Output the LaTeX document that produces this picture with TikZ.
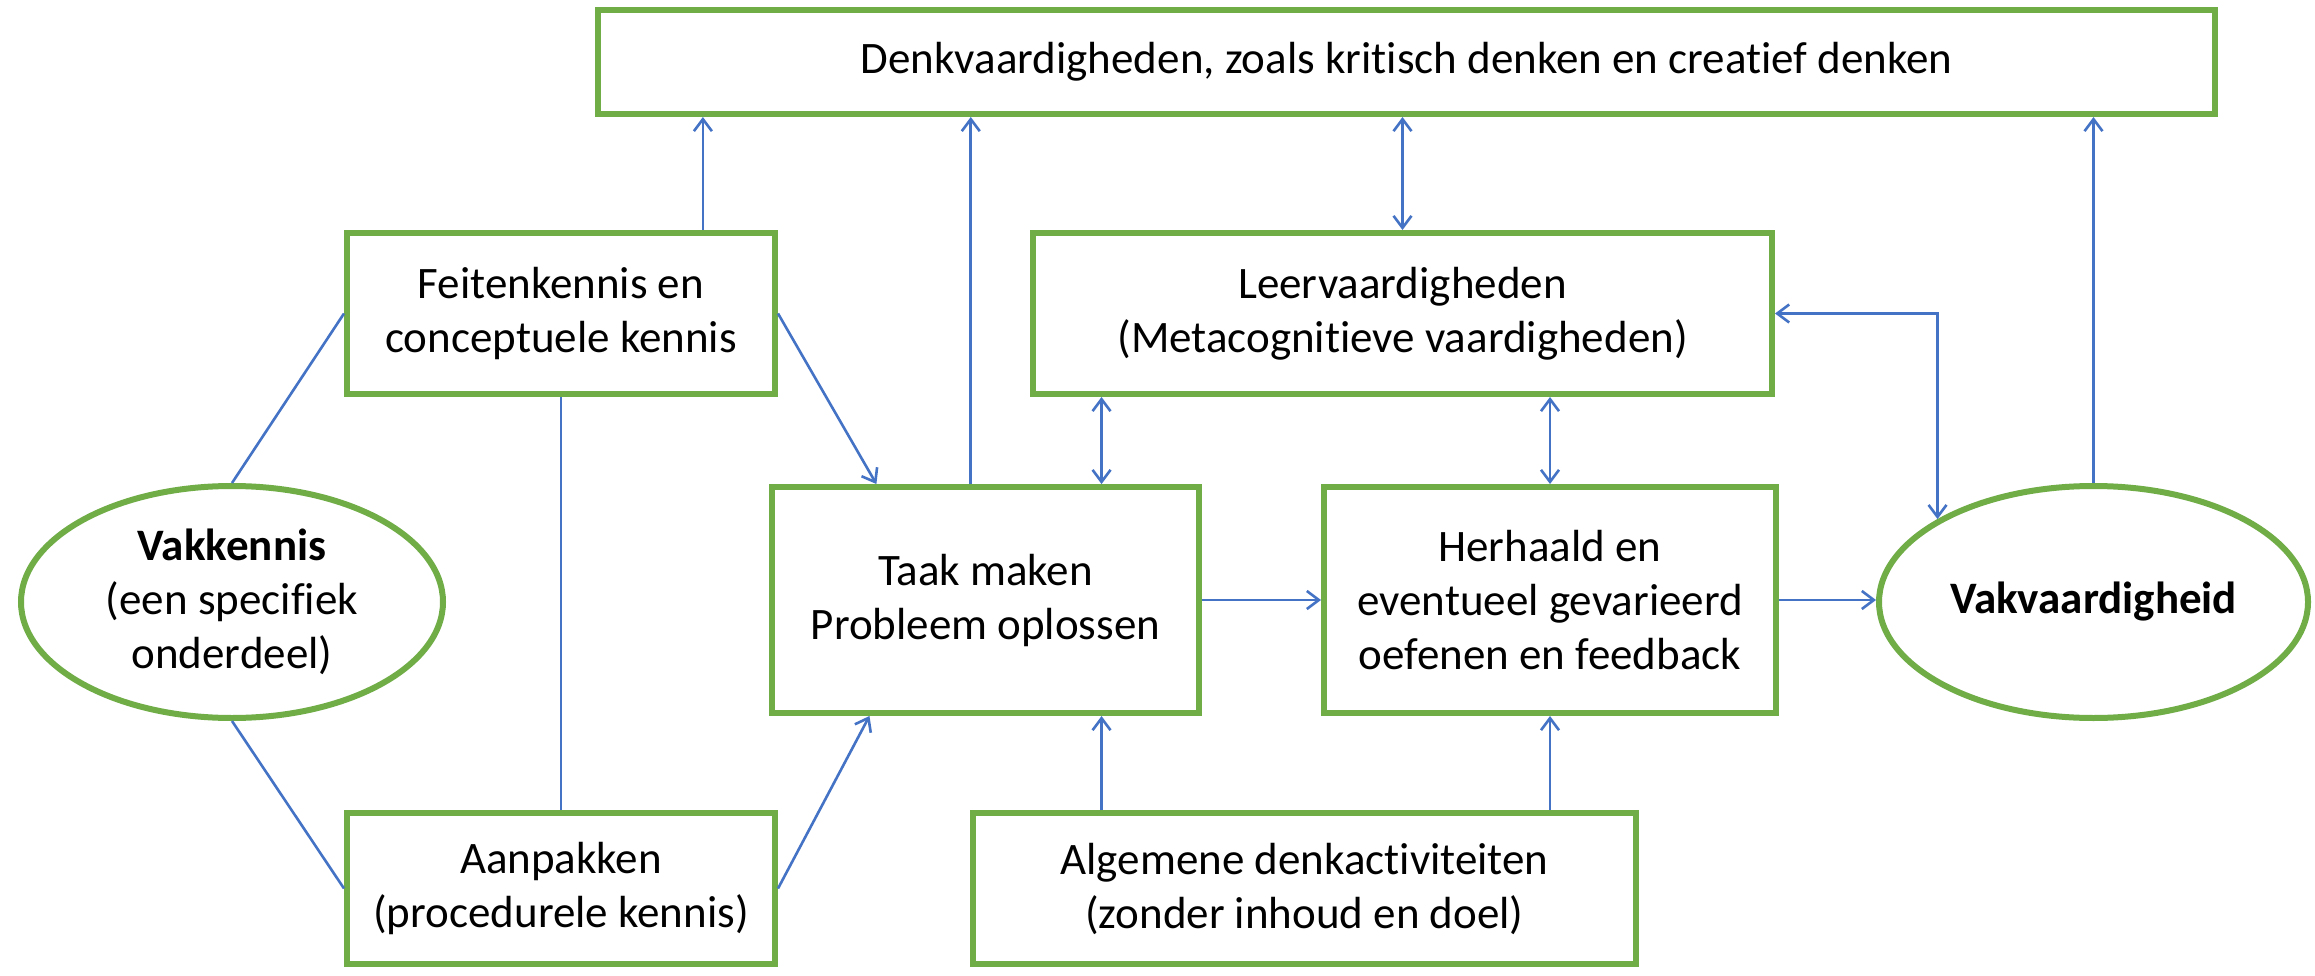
\documentclass[tikz,border=0pt]{standalone}
\usepackage{fontspec}
\setmainfont{Carlito}[Ligatures=NoCommon]
\usetikzlibrary{arrows.meta,shapes.geometric,calc}
\definecolor{grn}{HTML}{70AD47}
\definecolor{blu}{HTML}{4472C4}
\begin{document}
\begin{tikzpicture}[x=1pt,y=-1pt,
  txt/.style={align=center, inner sep=0pt, font=\fontsize{45}{54}\selectfont},
  box/.style={txt, draw=grn, line width=6pt, fill=white, rectangle},
  oval/.style={txt, draw=grn, line width=6pt, fill=white, ellipse},
  conn/.style={draw=blu, line width=2.6pt},
  tip/.tip={Straight Barb[length=12pt,width=18pt]},
  arr/.style={conn, -tip},
  darr/.style={conn, tip-tip}]
\fill[white] (0,0) rectangle (2315,976);
\useasboundingbox (0,0) rectangle (2315,976);

\node[box, minimum width=1617pt, minimum height=104pt] (top) at (1406.5,62)
  {Denkvaardigheden, zoals kritisch denken en creatief denken};
\node[box, minimum width=428pt, minimum height=161pt] (feiten) at (561,313.5)
  {Feitenkennis en\\conceptuele kennis};
\node[box, minimum width=739pt, minimum height=161pt] (leer) at (1402.5,313.5)
  {Leervaardigheden\\(Metacognitieve vaardigheden)};
\node[oval, minimum width=422pt, minimum height=232pt] (vk) at (232,602)
  {\textbf{Vakkennis}\\(een specifiek\\onderdeel)};
\node[box, minimum width=427pt, minimum height=226pt] (taak) at (985.5,600)
  {Taak maken\\Probleem oplossen};
\node[box, minimum width=452pt, minimum height=226pt] (herh) at (1550,600)
  {Herhaald en\\eventueel gevarieerd\\oefenen en feedback};
\node[oval, minimum width=429pt, minimum height=232pt] (vv) at (2093.5,602)
  {\textbf{Vakvaardigheid}};
\node[box, minimum width=428pt, minimum height=151pt] (aanp) at (561,888.5)
  {Aanpakken\\(procedurele kennis)};
\node[box, minimum width=663pt, minimum height=151pt] (alg) at (1304.5,888.5)
  {Algemene denkactiviteiten\\(zonder inhoud en doel)};

% helper coordinates on box borders
\path ($(feiten.north west)!.827!(feiten.north east)$) coordinate (f1);
\path ($(taak.north west)!.466!(taak.north east)$) coordinate (t1);
\path ($(taak.north west)!.768!(taak.north east)$) coordinate (t2);
\path ($(taak.north west)!.248!(taak.north east)$) coordinate (t3);
\path ($(taak.south west)!.232!(taak.south east)$) coordinate (t4);

% to the top box
\draw[arr] (f1) -- (f1 |- top.south);
\draw[arr] (t1) -- (t1 |- top.south);
\draw[darr] (leer.north) -- (leer.north |- top.south);
\draw[arr] (vv.north) -- (vv.north |- top.south);

% learning skills links
\draw[darr] (leer.east) -| (vv.152);
\draw[darr] (t2 |- leer.south) -- (t2);
\draw[darr] (herh.north |- leer.south) -- (herh.north);

% left side
\draw[conn] (vk.north) -- (feiten.west);
\draw[conn] (vk.south) -- (aanp.west);
\draw[conn] (feiten.south) -- (aanp.north);
\draw[arr] (feiten.east) -- (t3);
\draw[arr] (aanp.east) -- (t4);

% main row
\draw[arr] (taak.east) -- (herh.west);
\draw[arr] (herh.east) -- (vv.west |- herh.east);

% bottom
\draw[arr] (t2 |- alg.north) -- (t2 |- taak.south);
\draw[arr] (herh.south |- alg.north) -- (herh.south);
\end{tikzpicture}
\end{document}
